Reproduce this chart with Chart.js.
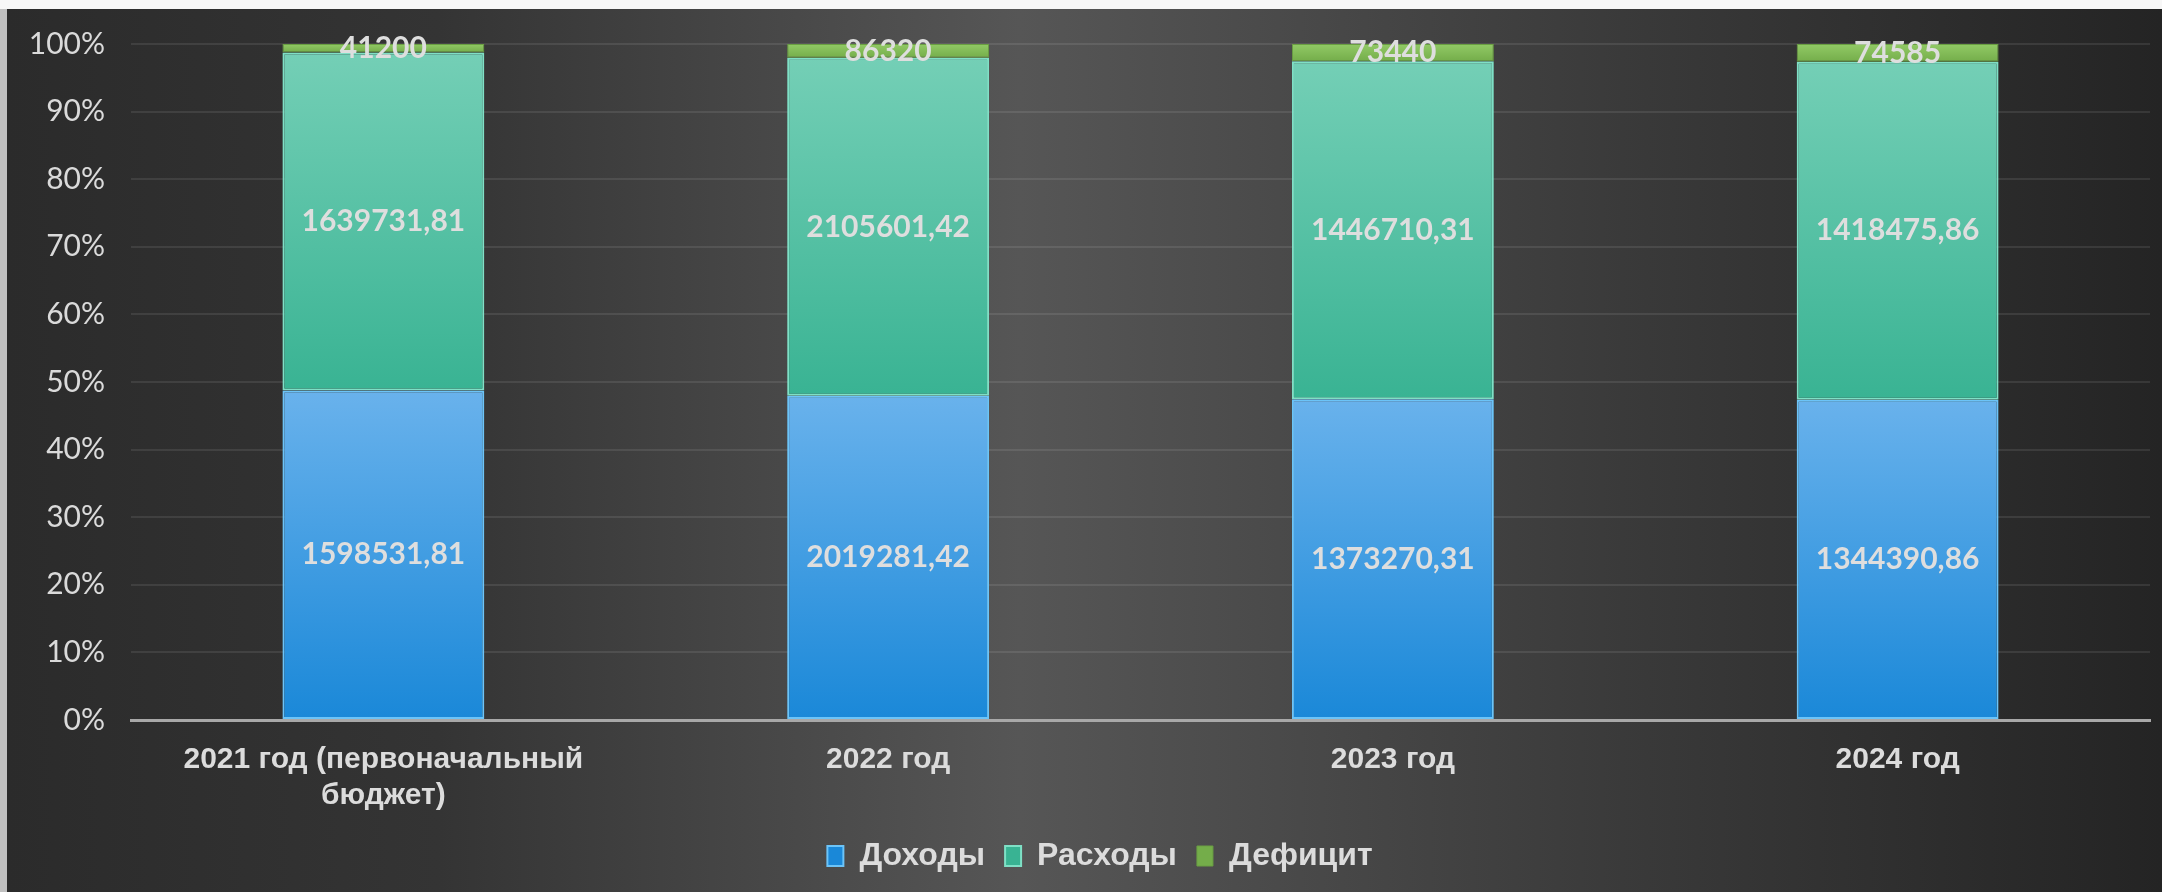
<!DOCTYPE html>
<html>
<head>
<meta charset="utf-8">
<script src="https://cdn.jsdelivr.net/npm/chart.js@4.4.1/dist/chart.umd.min.js"></script>
<style>
    body { margin: 0; background: #2a2a2a; }
    #wrap { width: 2162px; height: 892px; position: relative; }
</style>
</head>
<body>
<div id="wrap"><canvas id="myChart"></canvas></div>
<script>
var categories = [["2021 год (первоначальный", "бюджет)"], "2022 год", "2023 год", "2024 год"];
var dohody = [1598531.81, 2019281.42, 1373270.31, 1344390.86];
var rashody = [1639731.81, 2105601.42, 1446710.31, 1418475.86];
var deficit = [41200, 86320, 73440, 74585];
var yTicks = [0, 10, 20, 30, 40, 50, 60, 70, 80, 90, 100];

// 100% stacked: share of each value in the column total
var raw = [dohody, rashody, deficit];
var pct = raw.map(function (arr) {
    return arr.map(function (v, i) {
        return v / (dohody[i] + rashody[i] + deficit[i]) * 100;
    });
});

function barFill(c, ds, cTop, cBot) {
    var chart = c.chart;
    if (!chart.chartArea || c.dataIndex === undefined) return cBot;
    var y = chart.scales.y;
    var start = 0;
    for (var k = 0; k < ds; k++) start += pct[k][c.dataIndex];
    var end = start + pct[ds][c.dataIndex];
    var g = chart.ctx.createLinearGradient(0, y.getPixelForValue(end), 0, y.getPixelForValue(start));
    g.addColorStop(0, cTop);
    g.addColorStop(1, cBot);
    return g;
}

var bgPlugin = {
    id: 'bg',
    beforeDraw: function (chart) {
        var ctx = chart.ctx, w = chart.width, h = chart.height;
        ctx.save();
        ctx.fillStyle = '#f7f7f7';
        ctx.fillRect(0, 0, w, 9);
        ctx.fillStyle = '#c0c0c0';
        ctx.fillRect(0, 9, 7, h - 9);
        var g = ctx.createLinearGradient(7, 0, w, 0);
        g.addColorStop(0, '#2b2b2b');
        g.addColorStop(0.2, '#343434');
        g.addColorStop(0.47, '#565656');
        g.addColorStop(0.75, '#3a3a3a');
        g.addColorStop(1, '#242424');
        ctx.fillStyle = g;
        ctx.fillRect(7, 9, w - 7, h - 9);
        ctx.restore();
    }
};

// legend sits a bit right of centre in the original
var legendShift = {
    id: 'legendShift',
    afterLayout: function (chart) {
        chart.legend.left += 25;
        chart.legend.right += 25;
    }
};

var labelPlugin = {
    id: 'valLabels',
    afterDatasetsDraw: function (chart) {
        var ctx = chart.ctx;
        ctx.save();
        ctx.font = 'bold 30px Lato';
        ctx.fillStyle = '#dedede';
        ctx.textAlign = 'center';
        ctx.textBaseline = 'middle';
        chart.data.datasets.forEach(function (ds, di) {
            chart.getDatasetMeta(di).data.forEach(function (bar, i) {
                var txt = String(raw[di][i]).replace('.', ',');
                ctx.fillText(txt, bar.x, (bar.y + bar.base) / 2);
            });
        });
        ctx.restore();
    }
};

var cdata = {
    labels: categories,
    datasets: [{
        label: 'Доходы',
        data: pct[0],
        backgroundColor: function (c) { return barFill(c, 0, '#69b2ec', '#1a88d8'); },
        borderColor: '#6cc4f8',
        borderWidth: 2,
        borderSkipped: false
    }, {
        label: 'Расходы',
        data: pct[1],
        backgroundColor: function (c) { return barFill(c, 1, '#74cfb6', '#39b393'); },
        borderColor: '#7fe0c6',
        borderWidth: 2,
        borderSkipped: false
    }, {
        label: 'Дефицит',
        data: pct[2],
        backgroundColor: function (c) { return barFill(c, 2, '#92ca66', '#74ad4a'); },
        borderColor: '#6a9f42',
        borderWidth: 1,
        borderSkipped: false
    }]
};

var config = {
    type: 'bar',
    data: cdata,
    plugins: [bgPlugin, labelPlugin, legendShift],
    options: {
        responsive: true,
        maintainAspectRatio: false,
        animation: false,
        barPercentage: 0.4,
        categoryPercentage: 1,
        layout: { padding: { left: 0, top: 40, right: 12, bottom: 10 } },
        plugins: {
            tooltip: { enabled: false },
            legend: {
                position: 'bottom',
                labels: {
                    color: '#dcdcdc',
                    font: { family: 'Liberation Sans', size: 32, weight: 'bold' },
                    boxWidth: 16,
                    boxHeight: 20,
                    padding: 20
                }
            }
        },
        scales: {
            x: {
                stacked: true,
                grid: { display: false, drawTicks: false },
                border: { color: '#a8a8a8', width: 3 },
                ticks: {
                    color: '#dcdcdc',
                    padding: 22,
                    maxRotation: 0,
                    autoSkip: false,
                    font: { family: 'Liberation Sans', size: 30, weight: 'bold', lineHeight: 1.2 }
                },
                afterFit: function (scale) { scale.height = 100; }
            },
            y: {
                stacked: true,
                min: 0,
                max: 100,
                afterBuildTicks: function (scale) {
                    scale.ticks = yTicks.map(function (v) { return { value: v }; });
                },
                grid: { color: 'rgba(255,255,255,0.09)', lineWidth: 2, drawTicks: false },
                border: { display: false },
                ticks: {
                    color: '#dadada',
                    padding: 26,
                    font: { family: 'Lato', size: 30 },
                    callback: function (v) { return v + '%'; }
                },
                afterFit: function (scale) { scale.width = 131; }
            }
        }
    }
};

var myChart = new Chart(document.getElementById('myChart'), config);
</script>
</body>
</html>
